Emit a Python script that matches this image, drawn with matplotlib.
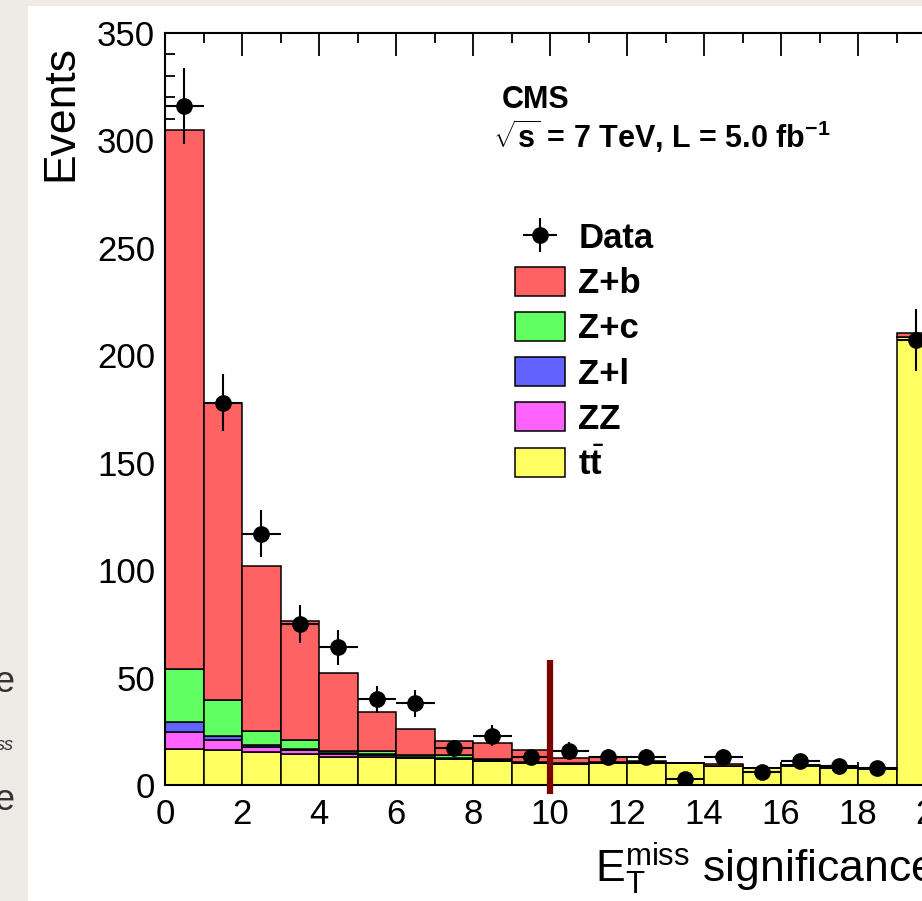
import numpy as np
import matplotlib
matplotlib.use('Agg')
import matplotlib.pyplot as plt
from matplotlib.patches import Rectangle
from matplotlib.ticker import MultipleLocator

plt.rcParams['font.family'] = ['Liberation Sans', 'DejaVu Sans']
plt.rcParams['mathtext.fontset'] = 'custom'
plt.rcParams['mathtext.rm'] = 'Liberation Sans'
plt.rcParams['mathtext.it'] = 'Liberation Sans:italic'
plt.rcParams['mathtext.bf'] = 'Liberation Sans:bold'

# Bins de la significancia de MET (0..20, ancho 1)
bin_edges = np.arange(0, 21, 1)

# Contribuciones apiladas (de abajo hacia arriba)
ttbar = [16.7, 16.3, 15.2, 14.6, 13.2, 13.2, 12.6, 12.0, 11.2, 10.1,
         9.8, 10.2, 10.2, 10.4, 8.8, 7.7, 9.0, 8.0, 7.6, 208.5]
zz = [7.8, 4.7, 2.6, 1.6, 1.2, 0.8, 0.4, 0.3, 0.2, 0.1,
      0.1, 0.1, 0.1, 0.0, 0.1, 0.0, 0.1, 0.0, 0.0, 0.1]
z_light = [4.7, 1.7, 0.6, 0.6, 0.4, 0.3, 0.2, 0.2, 0.1, 0.1,
           0.1, 0.1, 0.0, 0.0, 0.0, 0.0, 0.0, 0.0, 0.0, 0.0]
z_c = [25.0, 16.8, 6.8, 4.2, 1.2, 1.7, 0.7, 1.6, 0.5, 0.3,
       0.2, 0.3, 0.2, 0.0, 0.1, 0.0, 0.1, 0.1, 0.0, 0.1]
z_b = [250.8, 138.1, 76.8, 55.5, 36.3, 18.1, 12.1, 6.5, 7.7, 5.7,
       2.2, 2.2, 0.7, 0.0, 0.8, 0.0, 0.3, 0.2, 0.1, 1.8]

# Datos
data = [316, 178, 117, 75, 64, 40, 38, 17, 23, 13,
        16, 13, 13, 3, 13, 6, 11, 9, 8, 207]
data_err = [17.8, 13.3, 10.8, 8.7, 8.0, 6.3, 6.2, 4.1, 4.8, 3.6,
            4.0, 3.6, 3.6, 1.7, 3.6, 2.4, 3.3, 3.0, 2.8, 14.4]

# Corte en la significancia
cut_value = 10
cut_line_top = 58

components = [
    (ttbar, '#FFFF62', r'$\mathbf{t}\bar{\mathbf{t}}$'),
    (zz, '#FF62FF', 'ZZ'),
    (z_light, '#6262FF', 'Z+l'),
    (z_c, '#62FF62', 'Z+c'),
    (z_b, '#FF6262', 'Z+b'),
]

fig = plt.figure(figsize=(9.22, 9.01), dpi=100)
fig.patch.set_facecolor('white')

# Franja gris del borde de la captura
fig.patches.append(Rectangle((0, 0), 28 / 922, 1, transform=fig.transFigure,
                             facecolor='#EEEAE6', edgecolor='none', zorder=0))
fig.patches.append(Rectangle((0, 1 - 6 / 901), 1, 6 / 901, transform=fig.transFigure,
                             facecolor='#EEEAE6', edgecolor='none', zorder=0))
fig.text(14 / 922, 1 - 683 / 901, 'e', ha='right', va='center', fontsize=26, color='#333333')
fig.text(14 / 922, 1 - 745 / 901, 'ss', ha='right', va='center', fontsize=13,
         style='italic', color='#333333')
fig.text(14 / 922, 1 - 800 / 901, 'e', ha='right', va='center', fontsize=26, color='#333333')

ax = fig.add_axes([165 / 922, 116 / 901, 770 / 922, 752 / 901])

left = bin_edges[:-1]
bottom = np.zeros(len(left))
handles = {}
for vals, col, lab in components:
    vals = np.array(vals)
    h = ax.bar(left, vals, width=1.0, bottom=bottom, align='edge', color=col,
               edgecolor='black', linewidth=1.1, label=lab, zorder=2)
    handles[lab] = h
    bottom = bottom + vals

centers = left + 0.5
hd = ax.errorbar(centers, data, xerr=0.5, yerr=data_err, fmt='o', color='black',
                 ms=11, elinewidth=1.5, capsize=0, zorder=5, label='Data')

ax.vlines(cut_value, -4, cut_line_top, color='#7B0000', linewidth=4.5,
          clip_on=False, zorder=6)

ax.set_xlim(0, 20)
ax.set_ylim(0, 350)
ax.xaxis.set_major_locator(MultipleLocator(2))
ax.xaxis.set_minor_locator(MultipleLocator(1))
ax.yaxis.set_major_locator(MultipleLocator(50))
ax.yaxis.set_minor_locator(MultipleLocator(10))
ax.tick_params(which='both', direction='in', top=True, right=False, width=1.3,
               labelsize=25)
ax.tick_params(which='major', length=16.5)
ax.tick_params(which='minor', length=7.5)
ax.tick_params(axis='x', pad=9)
ax.tick_params(axis='y', pad=7)
for sp in ax.spines.values():
    sp.set_linewidth(1.5)

ax.text(-0.135, 0.984, 'Events', rotation=90, ha='center', va='top',
        fontsize=32, transform=ax.transAxes)
ax.text(1.0, -0.130, r'$\mathrm{E}_{\mathrm{T}}^{\mathrm{miss}}$ significance',
        ha='right', va='baseline', fontsize=32, transform=ax.transAxes)

ax.text(0.4377, 0.900, 'CMS', fontsize=22, fontweight='bold', va='baseline',
        transform=ax.transAxes)
ax.text(0.426, 0.847, r'$\sqrt{\mathbf{s}}$ = 7 TeV, L = 5.0 fb$^{\mathbf{-1}}$',
        fontsize=22, fontweight='bold', va='baseline', transform=ax.transAxes)

order = ['Z+b', 'Z+c', 'Z+l', 'ZZ', r'$\mathbf{t}\bar{\mathbf{t}}$']
leg = ax.legend([hd] + [handles[k] for k in order], ['Data'] + order,
                loc='upper left', bbox_to_anchor=(0.4545, 0.749), frameon=False,
                borderaxespad=0, borderpad=0, handlelength=1.45, handleheight=0.92,
                labelspacing=0.33, handletextpad=0.37,
                prop={'size': 25, 'weight': 'bold'})

fig.savefig('out.png', dpi=100)
